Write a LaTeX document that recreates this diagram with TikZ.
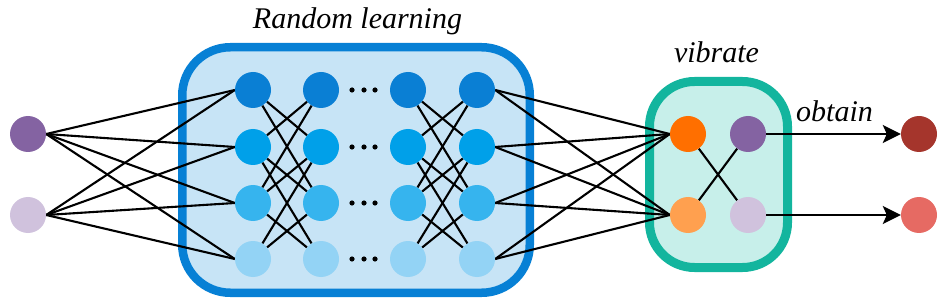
\documentclass[tikz,border=0pt]{standalone}
\usepackage{fontspec}
\setmainfont{Liberation Serif}
\usetikzlibrary{arrows.meta}
\pgfdeclarelayer{bg}
\pgfdeclarelayer{edges}
\pgfsetlayers{bg,edges,main}
\definecolor{cPurple}{HTML}{8463A2}
\definecolor{cLilac}{HTML}{D0C2DD}
\definecolor{cBA}{HTML}{0A7FD4}
\definecolor{cBB}{HTML}{00A0E9}
\definecolor{cBC}{HTML}{36B4EE}
\definecolor{cBD}{HTML}{93D3F5}
\definecolor{cBoxB}{HTML}{0780D5}
\definecolor{cFillB}{HTML}{C7E4F6}
\definecolor{cBoxG}{HTML}{13B59E}
\definecolor{cFillG}{HTML}{C7EFEA}
\definecolor{cOrange}{HTML}{FF6F00}
\definecolor{cLOrange}{HTML}{FFA04F}
\definecolor{cDRed}{HTML}{A5352C}
\definecolor{cLRed}{HTML}{E66A63}
\begin{document}
\begin{tikzpicture}[x=1pt,y=-1pt,
  neuron/.style={circle,minimum size=36pt,inner sep=0pt,draw=none},
  link/.style={line width=2.1pt,black},
  arr/.style={line width=2.4pt,black,-{Stealth[length=18pt,width=18pt,inset=4pt]}},
  lab/.style={font=\fontsize{30}{30}\selectfont\itshape,anchor=base,inner sep=0pt}]
\useasboundingbox (0,0) rectangle (947,307);
% boxes
\begin{pgfonlayer}{bg}
\draw[line width=8.5pt,draw=cBoxB,fill=cFillB,rounded corners=48pt] (182.25,47.25) rectangle (529.75,292.75);
\draw[line width=9pt,draw=cBoxG,fill=cFillG,rounded corners=45pt] (649.5,81.5) rectangle (787.5,267.5);
\end{pgfonlayer}
% input nodes
\node[neuron,fill=cPurple] (in1) at (28,134) {};
\node[neuron,fill=cLilac] (in2) at (28,215) {};
% hidden layers
\foreach \c/\x in {1/253,2/321,3/408,4/477}{
  \foreach \r/\y/\col in {1/90/cBA,2/147/cBB,3/203/cBC,4/259/cBD}{
    \node[neuron,fill=\col] (n\c\r) at (\x,\y) {};
  }
}
% ellipsis dots
\foreach \y in {90,147,203,259}{
  \foreach \x in {352,364,375}{
    \fill[black] (\x,\y) circle (2.6pt);
  }
}
% vibrate nodes
\node[neuron,fill=cOrange] (o1) at (688,134) {};
\node[neuron,fill=cLOrange] (o2) at (688,215) {};
\node[neuron,fill=cPurple] (p1) at (748,134) {};
\node[neuron,fill=cLilac] (p2) at (748,215) {};
% outputs
\node[neuron,fill=cDRed] (r1) at (919,134) {};
\node[neuron,fill=cLRed] (r2) at (919,215) {};
% labels
\node[lab] (tRand) at (357.5,29) {Random learning};
\node[lab] (tVib) at (716.5,63) {vibrate};
\node[lab] (tObt) at (834.5,122) {obtain};
% connectors
\begin{pgfonlayer}{edges}
\foreach \i in {1,2}{
  \foreach \r in {1,...,4}{
    \draw[link] (in\i.east) -- (n1\r.west);
  }
}
\foreach \a/\b in {1/2,1/3,2/1,2/3,2/4,3/1,3/2,3/4,4/2,4/3}{
  \draw[link] (n1\a) -- (n2\b);
  \draw[link] (n3\a) -- (n4\b);
}
\foreach \r in {1,...,4}{
  \foreach \o in {1,2}{
    \draw[link] (n4\r.east) -- (o\o.west);
  }
}
\draw[link] (o1) -- (p2);
\draw[link] (o2) -- (p1);
\draw[arr] (p1.east) -- (r1.west);
\draw[arr] (p2.east) -- (r2.west);
\end{pgfonlayer}
\end{tikzpicture}
\end{document}
